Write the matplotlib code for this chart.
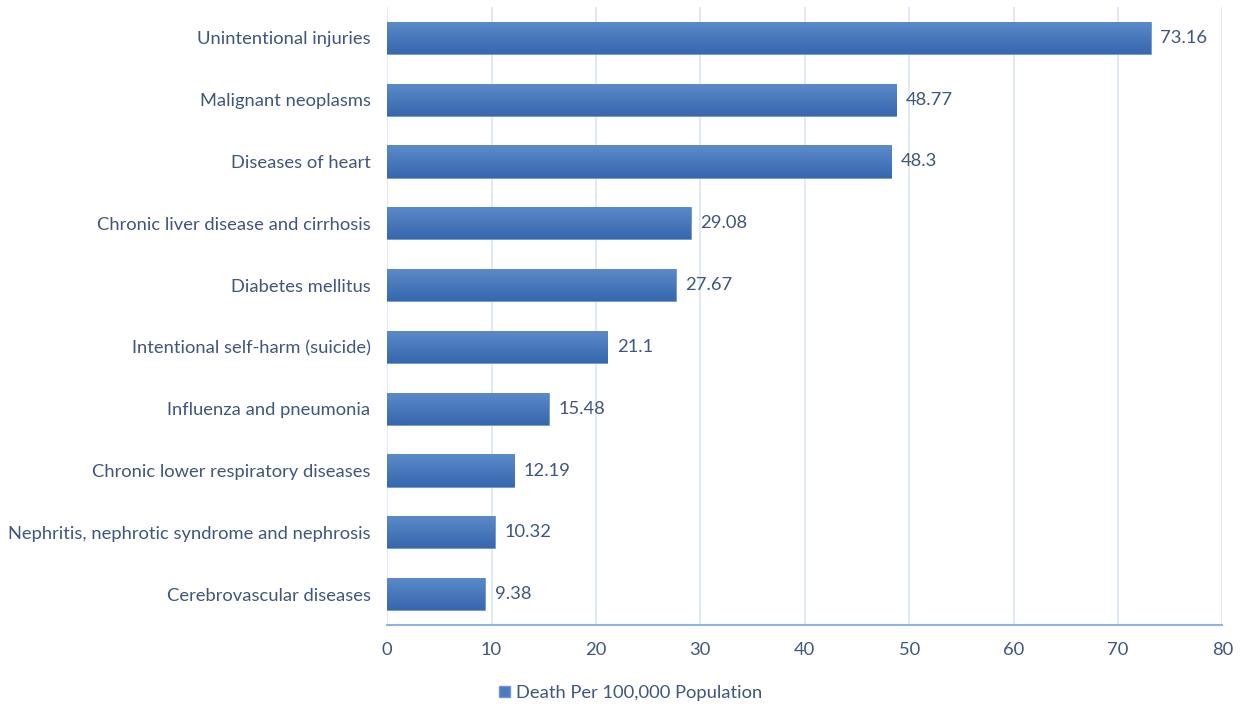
import matplotlib.pyplot as plt
import numpy as np
from matplotlib.colors import LinearSegmentedColormap
from matplotlib.patches import Patch

# --- Data ---
causes = [
    "Cerebrovascular diseases",
    "Nephritis, nephrotic syndrome and nephrosis",
    "Chronic lower respiratory diseases",
    "Influenza and pneumonia",
    "Intentional self-harm (suicide)",
    "Diabetes mellitus",
    "Chronic liver disease and cirrhosis",
    "Diseases of heart",
    "Malignant neoplasms",
    "Unintentional injuries",
]
deaths = [9.38, 10.32, 12.19, 15.48, 21.1, 27.67, 29.08, 48.3, 48.77, 73.16]
value_labels = ["9.38", "10.32", "12.19", "15.48", "21.1", "27.67", "29.08", "48.3", "48.77", "73.16"]
ticks = [0, 10, 20, 30, 40, 50, 60, 70, 80]

text_col = "#40567e"
bar_col = "#4a7bbf"
fs = 13.2

plt.rcParams['font.family'] = ['Lato', 'DejaVu Sans']

fig = plt.figure(figsize=(12.41, 7.08), dpi=100)
ax = fig.add_axes([0.312, 0.1172, 0.673, 0.873])

y = np.arange(len(causes))
bars = ax.barh(y, deaths, height=0.52, color=bar_col, edgecolor="#6f98d0", linewidth=0.6, zorder=2)

# vertical gradient on each bar (lighter top, darker bottom)
grad = np.linspace(0, 1, 64).reshape(-1, 1)
cmap = LinearSegmentedColormap.from_list("g", ["#3767ad", "#5b8bca"])
for b in bars:
    x0, y0 = b.get_x(), b.get_y()
    w, h = b.get_width(), b.get_height()
    im = ax.imshow(grad, extent=[x0, x0 + w, y0, y0 + h], origin="lower",
                   aspect="auto", cmap=cmap, zorder=2.5)
    im.set_clip_path(b)

for yi, v, lab in zip(y, deaths, value_labels):
    ax.text(v + 0.9, yi, lab, va="center", ha="left", fontsize=fs, color=text_col)

ax.set_xlim(0, 80)
ax.set_ylim(-0.5, len(causes) - 0.5)
ax.set_xticks(ticks)
ax.set_yticks(y)
ax.set_yticklabels(causes)
ax.tick_params(axis="both", length=0, labelsize=fs, labelcolor=text_col)
ax.tick_params(axis="y", pad=12)
ax.tick_params(axis="x", pad=12)

ax.grid(axis="x", color="#dce6f2", linewidth=1.2, zorder=0)
for s in ["top", "right", "left"]:
    ax.spines[s].set_visible(False)
ax.spines["bottom"].set_color("#8eb4e3")
ax.spines["bottom"].set_linewidth(1.5)

# legend
fig.legend(handles=[Patch(facecolor=bar_col, edgecolor="#6f98d0")],
           labels=["Death Per 100,000 Population"], loc="center",
           bbox_to_anchor=(0.508, 0.021), frameon=False, fontsize=fs,
           handlelength=0.6, handleheight=0.6, handletextpad=0.3, labelcolor=text_col)

fig.savefig("out.png", dpi=100, facecolor="white")
